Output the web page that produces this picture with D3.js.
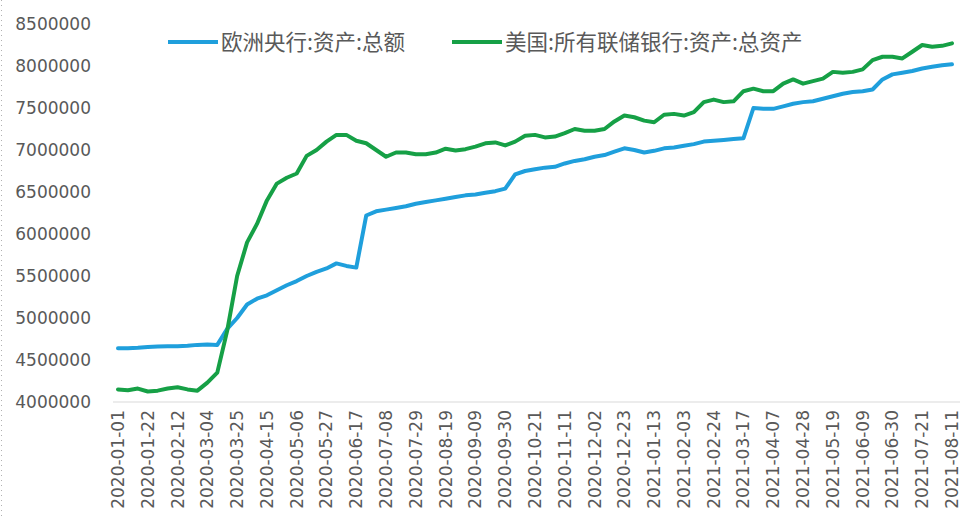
<!DOCTYPE html>
<html>
<head>
<meta charset="utf-8">
<script src="https://cdn.jsdelivr.net/npm/d3@7"></script>
<style>
  body { margin: 0; background: #fff; }
  text { font-family: "DejaVu Sans", sans-serif; fill: #595959; }
  .cjk { font-family: "Noto Sans CJK SC", sans-serif; }
</style>
</head>
<body>
<svg width="967" height="520"></svg>
<script>
// weekly dates, 2020-01-01 .. 2021-08-11
const weeks = d3.timeDay.range(new Date(2020, 0, 1), new Date(2021, 7, 12), 7);

// 欧洲央行:资产:总额
const ecb = [
  4640000, 4640000, 4645000, 4655000, 4660000, 4665000, 4665000, 4670000, 4680000, 4685000,
  4680000, 4870000, 5000000, 5160000, 5230000, 5270000, 5330000, 5390000, 5440000, 5500000,
  5550000, 5590000, 5650000, 5620000, 5600000, 6220000, 6270000, 6290000, 6310000, 6330000,
  6360000, 6380000, 6400000, 6420000, 6440000, 6460000, 6470000, 6490000, 6510000, 6540000,
  6710000, 6750000, 6770000, 6790000, 6800000, 6840000, 6870000, 6890000, 6920000, 6940000,
  6980000, 7020000, 7000000, 6970000, 6990000, 7020000, 7030000, 7050000, 7070000, 7100000,
  7110000, 7120000, 7130000, 7140000, 7500000, 7490000, 7490000, 7520000, 7550000, 7570000,
  7580000, 7610000, 7640000, 7670000, 7690000, 7700000, 7720000, 7840000, 7900000, 7920000,
  7940000, 7970000, 7990000, 8010000, 8020000
];

// 美国:所有联储银行:资产:总资产
const fed = [
  4150000, 4140000, 4160000, 4125000, 4135000, 4160000, 4175000, 4150000, 4135000, 4230000,
  4350000, 4850000, 5500000, 5900000, 6120000, 6400000, 6600000, 6670000, 6720000, 6930000,
  7000000, 7100000, 7180000, 7180000, 7110000, 7080000, 7000000, 6920000, 6970000, 6970000,
  6950000, 6950000, 6970000, 7015000, 6995000, 7010000, 7040000, 7080000, 7090000, 7055000,
  7100000, 7170000, 7180000, 7150000, 7160000, 7200000, 7250000, 7230000, 7230000, 7250000,
  7340000, 7410000, 7390000, 7350000, 7330000, 7420000, 7430000, 7410000, 7450000, 7570000,
  7600000, 7570000, 7580000, 7700000, 7730000, 7700000, 7700000, 7790000, 7840000, 7790000,
  7820000, 7850000, 7930000, 7920000, 7930000, 7960000, 8070000, 8110000, 8110000, 8090000,
  8170000, 8250000, 8230000, 8240000, 8270000
];

const yTicks = [4000000, 4500000, 5000000, 5500000, 6000000, 6500000, 7000000, 7500000, 8000000, 8500000];
const seriesNames = ["欧洲央行:资产:总额", "美国:所有联储银行:资产:总资产"];
const seriesColors = ["#1f9fdc", "#16a046"];

const svg = d3.select("svg");
const fmt = d3.timeFormat("%Y-%m-%d");

const x = d3.scalePoint().domain(d3.range(weeks.length)).range([118, 952]);
const y = d3.scaleLinear().domain([4000000, 8500000]).range([402, 24]);

// dotted page edge on the left
svg.append("line")
  .attr("x1", 1.5).attr("x2", 1.5).attr("y1", 0).attr("y2", 520)
  .attr("stroke", "#b0b0b0").attr("stroke-dasharray", "1,4");

// bottom axis line
svg.append("line")
  .attr("x1", 113).attr("x2", 960).attr("y1", y(4000000)).attr("y2", y(4000000))
  .attr("stroke", "#d9d9d9").attr("stroke-width", 1);

// y labels
svg.selectAll(".ylab")
  .data(yTicks)
  .enter().append("text")
  .attr("class", "ylab")
  .attr("x", 91)
  .attr("y", d => y(d))
  .attr("dy", "0.35em")
  .attr("text-anchor", "end")
  .attr("font-size", 17)
  .text(d => d);

// x labels, every 3rd week, rotated
const xTickIdx = d3.range(0, weeks.length, 3);
svg.selectAll(".xlab")
  .data(xTickIdx)
  .enter().append("text")
  .attr("class", "xlab")
  .attr("transform", d => "translate(" + x(d) + ",410) rotate(-90)")
  .attr("text-anchor", "end")
  .attr("dy", "0.35em")
  .attr("font-size", 17)
  .text(d => fmt(weeks[d]));

const line = d3.line()
  .x((d, i) => x(i))
  .y(d => y(d));

[ecb, fed].forEach((vals, k) => {
  svg.append("path")
    .datum(vals)
    .attr("d", line)
    .attr("fill", "none")
    .attr("stroke", seriesColors[k])
    .attr("stroke-width", 4)
    .attr("stroke-linejoin", "round")
    .attr("stroke-linecap", "round");
});

// legend
const legendX = [168, 452];
seriesNames.forEach((name, k) => {
  svg.append("line")
    .attr("x1", legendX[k]).attr("x2", legendX[k] + 50)
    .attr("y1", 42).attr("y2", 42)
    .attr("stroke", seriesColors[k]).attr("stroke-width", 4);
  svg.append("text")
    .attr("class", "cjk")
    .attr("x", legendX[k] + 53)
    .attr("y", 42)
    .attr("dy", "0.35em")
    .attr("font-size", 21.5)
    .text(name);
});
</script>
</body>
</html>
